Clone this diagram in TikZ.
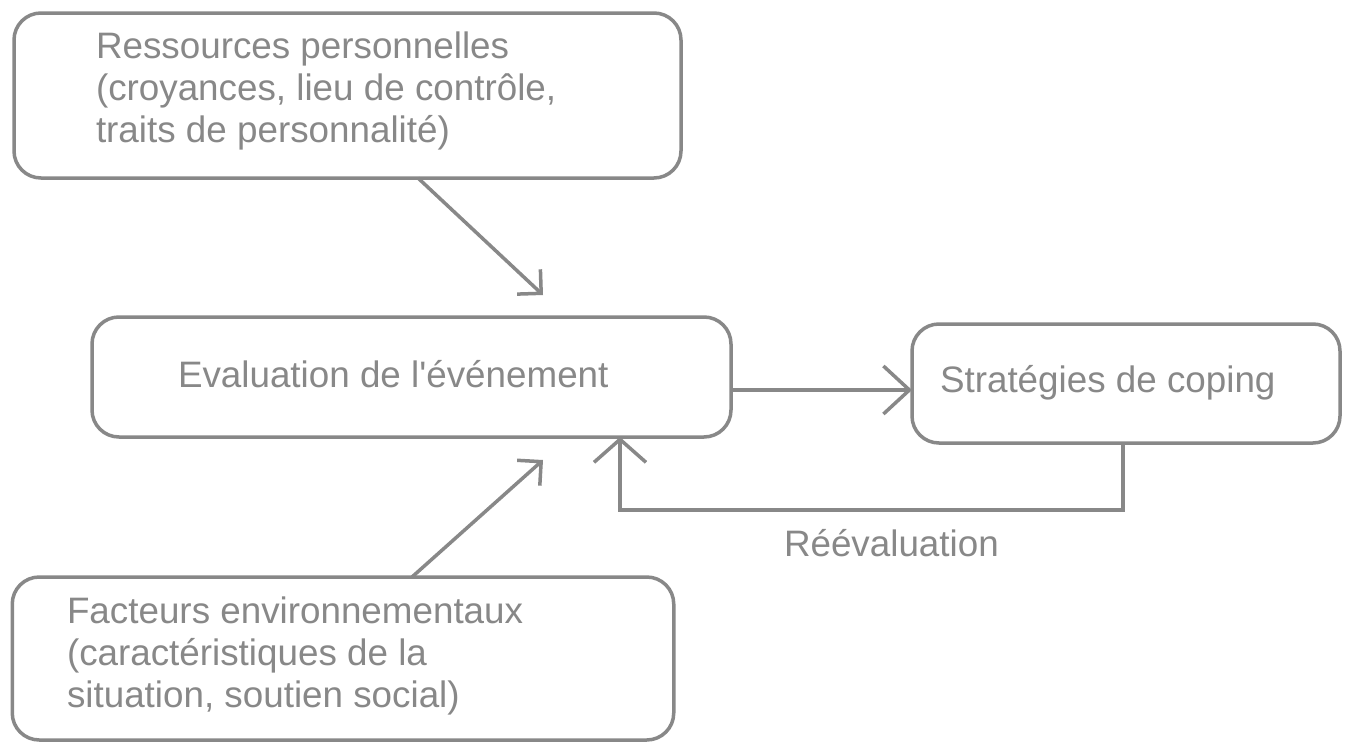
\documentclass[tikz,border=0pt]{standalone}
\usepackage{fontspec}
\setmainfont{Liberation Sans}[Ligatures=TeXOff]
\usetikzlibrary{arrows.meta}
\definecolor{ink}{RGB}{136,136,136}
\tikzset{
  box/.style={draw=ink, line width=3.5pt, rounded corners=27pt, inner sep=0pt, outer sep=0pt},
  txt/.style={text=ink, font=\fontsize{36.8}{42}\selectfont, anchor=base west, inner sep=0pt, outer sep=0pt},
  arr/.style={draw=ink, line width=3.5pt, -{Straight Barb[length=17pt,width=34pt]}},
  arrh/.style={draw=ink, line width=3.5pt, -{Straight Barb[length=26pt,width=48pt]}},
  arrv/.style={draw=ink, line width=3.5pt, -{Straight Barb[length=23pt,width=52pt]}}
}
\begin{document}
\begin{tikzpicture}[x=1pt,y=-1pt]
\useasboundingbox[fill=white] (0,0) rectangle (1347,742);
% boxes
\node[box, minimum width=667pt, minimum height=165pt] (b1) at (347.5,95.5) {};
\node[box, minimum width=639pt, minimum height=120pt] (b2) at (411.5,377) {};
\node[box, minimum width=428pt, minimum height=119pt] (b4) at (1126,383.5) {};
\node[box, minimum width=661.5pt, minimum height=163pt] (b3) at (343,658.5) {};
% texts
\node[txt] (t1) at (96,58) {\begin{tabular}[t]{@{}l@{}}Ressources personnelles\\(croyances, lieu de contrôle,\\traits de personnalité)\end{tabular}};
\node[txt] (t2) at (178,387) {Evaluation de l'événement};
\node[txt] (t4) at (940,392) {Stratégies de coping};
\node[txt] (t3) at (67,623) {\begin{tabular}[t]{@{}l@{}}Facteurs environnementaux\\(caractéristiques de la\\situation, soutien social)\end{tabular}};
\node[txt] (lr) at (784,556) {Réévaluation};
% free arrow ends
\coordinate (p1) at (543,295);
\coordinate (p3) at (543,460);
% connectors
\draw[arr] ([xshift=70.5pt]b1.south) -- (p1);
\draw[arr] ([xshift=69pt]b3.north) -- (p3);
\draw[arrh] ([yshift=-13pt]b2.east) -- ([yshift=-6.5pt]b4.west);
\draw[arrv, line join=miter] ([xshift=-3pt]b4.south) -- ++(0,67) -| ([xshift=208.5pt]b2.south);
\end{tikzpicture}
\end{document}
